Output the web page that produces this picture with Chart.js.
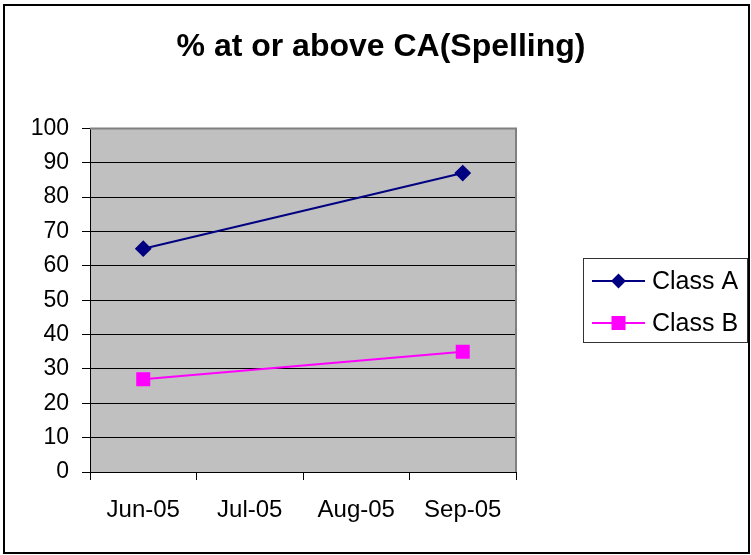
<!DOCTYPE html>
<html>
<head>
<meta charset="utf-8">
<script src="https://cdn.jsdelivr.net/npm/chart.js@4"></script>
<style>
  html, body { margin: 0; padding: 0; background: #fff; }
  #wrap { width: 751px; height: 555px; position: relative; }
</style>
</head>
<body>
<div id="wrap"><canvas id="chart1"></canvas></div>
<script>
'use strict';

const chartTitle = "% at or above CA(Spelling)";
const months = ["Jun-05", "Jul-05", "Aug-05", "Sep-05"];
const classA = [65, null, null, 87];
const classB = [27, null, null, 35];
const yTicks = { min: 0, max: 100, step: 10 };

const FONT = "'Liberation Sans', Arial, sans-serif";

// nền xám cho vùng vẽ + khung viền ngoài
const plotBg = {
  id: "plotBg",
  beforeDraw(chart) {
    const { ctx, chartArea: a } = chart;
    ctx.save();
    ctx.fillStyle = "#fff";
    ctx.fillRect(0, 0, chart.width, chart.height);
    ctx.fillStyle = "#C0C0C0";
    ctx.fillRect(a.left, a.top, a.right - a.left, a.bottom - a.top);
    ctx.restore();
  },
  beforeDatasetsDraw(chart) {
    const { ctx, chartArea: a } = chart;
    ctx.save();
    ctx.strokeStyle = "#808080";
    ctx.lineWidth = 2;
    ctx.beginPath();
    ctx.moveTo(a.left, a.top);
    ctx.lineTo(a.right, a.top);
    ctx.lineTo(a.right, a.bottom);
    ctx.stroke();
    ctx.restore();
  },
  afterDraw(chart) {
    const { ctx } = chart;
    ctx.save();
    ctx.strokeStyle = "#000";
    ctx.lineWidth = 2;
    ctx.strokeRect(4, 5, chart.width - 6, chart.height - 7);
    ctx.restore();
  },
};

// chú thích kiểu Excel: khung + đường có marker ở giữa
const boxLegend = {
  id: "boxLegend",
  afterDraw(chart, args, opts) {
    const { ctx } = chart;
    const { left, top, width, height, rowGap, firstRow } = opts;
    ctx.save();
    ctx.strokeStyle = "#333";
    ctx.lineWidth = 1;
    ctx.strokeRect(left + 0.5, top + 0.5, width, height);
    ctx.font = "25px " + FONT;
    ctx.textBaseline = "middle";
    ctx.fillStyle = "#000";
    chart.data.datasets.forEach((ds, i) => {
      const y = top + firstRow + i * rowGap;
      const x0 = left + 9, x1 = left + 62;
      ctx.strokeStyle = ds.borderColor;
      ctx.lineWidth = 2;
      ctx.beginPath();
      ctx.moveTo(x0, y);
      ctx.lineTo(x1, y);
      ctx.stroke();
      ctx.fillStyle = ds.pointBackgroundColor;
      ctx.strokeStyle = ds.pointBorderColor;
      Chart.helpers.drawPoint(ctx, {
        pointStyle: ds.pointStyle,
        radius: ds.legendRadius,
        rotation: 0,
        borderWidth: 1,
      }, (x0 + x1) / 2, y);
      ctx.fillStyle = "#000";
      ctx.fillText(ds.label, x1 + 7, y + 1);
    });
    ctx.restore();
  },
};

const ctx = document.getElementById("chart1");

new Chart(ctx, {
  type: "line",
  data: {
    labels: months,
    datasets: [
      {
        label: "Class A",
        data: classA,
        borderColor: "#000080",
        borderWidth: 2,
        pointStyle: "rectRot",
        pointRadius: 7,
        pointBackgroundColor: "#000080",
        pointBorderColor: "#000080",
        legendRadius: 6,
        spanGaps: true,
        tension: 0,
      },
      {
        label: "Class B",
        data: classB,
        borderColor: "#FF00FF",
        borderWidth: 2,
        pointStyle: "rect",
        pointRadius: 8.5,
        pointBackgroundColor: "#FF00FF",
        pointBorderColor: "#FF00FF",
        legendRadius: 8.5,
        spanGaps: true,
        tension: 0,
      },
    ],
  },
  options: {
    responsive: true,
    maintainAspectRatio: false,
    animation: false,
    layout: { padding: { left: 11, right: 0, top: 0, bottom: 0 } },
    scales: {
      x: {
        offset: true,
        grid: {
          offset: true,
          drawOnChartArea: false,
          drawTicks: true,
          tickLength: 8,
          color: "#000",
        },
        border: { color: "#000", width: 1 },
        ticks: { color: "#000", font: { family: FONT, size: 24 }, padding: 16, maxRotation: 0 },
        afterFit: (scale) => { scale.height = 83; },
      },
      y: {
        min: yTicks.min,
        max: yTicks.max,
        grid: { color: "#000", lineWidth: 1, tickLength: 8 },
        border: { color: "#000", width: 1 },
        ticks: { stepSize: yTicks.step, color: "#000", font: { family: FONT, size: 23 }, padding: 13 },
        afterFit: (scale) => { scale.width = 79; },
      },
      // trục ẩn bên phải chỉ để chừa chỗ cho chú thích
      yRight: {
        position: "right",
        min: yTicks.min,
        max: yTicks.max,
        grid: { display: false },
        border: { display: false },
        ticks: { display: false },
        afterFit: (scale) => { scale.width = 235; },
      },
    },
    plugins: {
      legend: { display: false },
      tooltip: { enabled: false },
      title: {
        display: true,
        text: chartTitle,
        color: "#000",
        font: { family: FONT, size: 32, weight: "bold" },
        padding: { top: 28, bottom: 62 },
      },
      boxLegend: { left: 583, top: 258, width: 164, height: 84, firstRow: 23, rowGap: 42 },
    },
  },
  plugins: [plotBg, boxLegend],
});
</script>
</body>
</html>
